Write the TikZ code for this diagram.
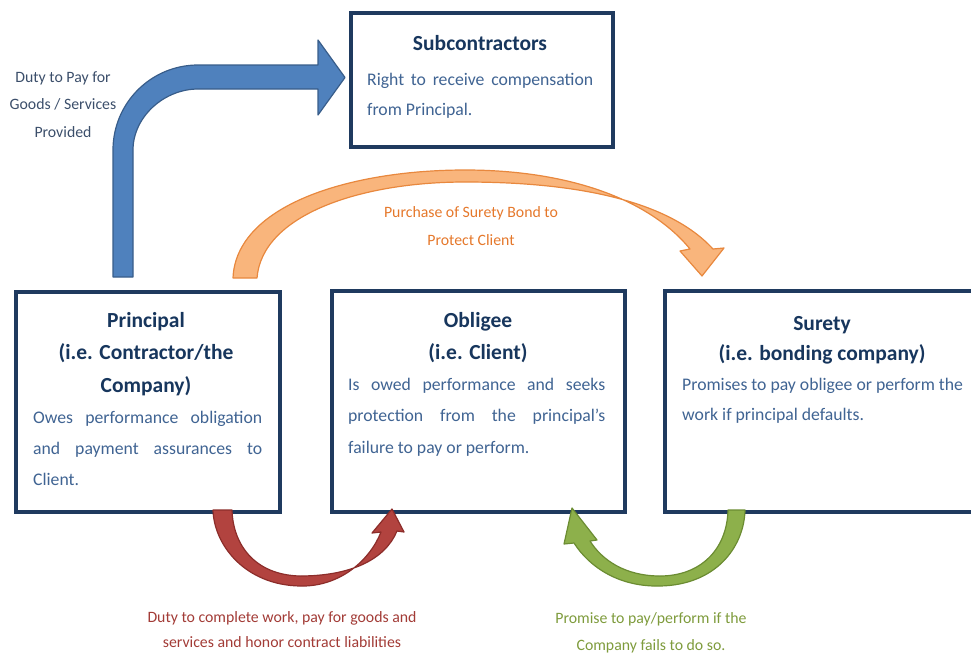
\documentclass[tikz,border=0pt]{standalone}
\usepackage{fontspec}
\setmainfont{Carlito}
\definecolor{boxline}{HTML}{1F3A5F}
\definecolor{titlecol}{HTML}{17365D}
\definecolor{bodycol}{HTML}{406493}
\definecolor{notecol}{HTML}{3B4E6A}
\definecolor{orangetxt}{HTML}{E5782B}
\definecolor{redtxt}{HTML}{A23B36}
\definecolor{greentxt}{HTML}{7E9B3C}
\definecolor{bluefill}{HTML}{4F81BD}
\definecolor{blueline}{HTML}{385D8A}
\definecolor{orangefill}{HTML}{F9B57C}
\definecolor{orangeline}{HTML}{E8883E}
\definecolor{redfill}{HTML}{B2433F}
\definecolor{redline}{HTML}{8C2D2A}
\definecolor{greenfill}{HTML}{8DB04B}
\definecolor{greenline}{HTML}{6B8C32}
% invisible strut fixing the height of a node's first line
\newcommand\firstrow[1]{\rule{0pt}{#1}}
\tikzset{
  box/.style={draw=boxline, line width=3.5pt, fill=white, inner sep=0pt},
  boxtitle/.style={anchor=north, align=center, inner sep=0pt, text=titlecol,
    font=\fontsize{21.5}{32.5}\selectfont\bfseries},
  boxbody/.style={anchor=north west, align=left, inner sep=0pt, text=bodycol,
    font=\fontsize{17.7}{31}\selectfont},
  note/.style={anchor=north, align=center, inner sep=0pt,
    font=\fontsize{15.8}{27.5}\selectfont},
  bandarrow/.style={line width=1.2pt, line join=round}
}
\begin{document}
\begin{tikzpicture}[x=1pt, y=-1pt]
\useasboundingbox (0,0) rectangle (971,654);
\clip (0,0) rectangle (971,654);

% boxes
\node[box, minimum width=262pt, minimum height=134pt, anchor=north west] (sub) at (349,11) {};
\node[box, minimum width=264pt, minimum height=220pt, anchor=north west] (principal) at (14,290) {};
\node[box, minimum width=293pt, minimum height=221pt, anchor=north west] (obligee) at (330,289) {};
\node[box, minimum width=330pt, minimum height=221pt, anchor=north west] (surety) at (663,289) {};

% box texts
\node[boxtitle] (subT) at (480,33) {\firstrow{17pt}Subcontractors};
\node[boxbody, font=\fontsize{17.7}{30}\selectfont] (subB) at (367,69)
  {\firstrow{16pt}\makebox[226pt][s]{Right to receive compensation}\\from Principal.};

\node[boxtitle] (prinT) at (146,310)
  {\firstrow{17pt}Principal\\(i.e. Contractor/the\\Company)};
\node[boxbody] (prinB) at (33,407)
  {\firstrow{16pt}\makebox[229pt][s]{Owes performance obligation}\\
   \makebox[229pt][s]{and payment assurances to}\\Client.};

\node[boxtitle] (oblT) at (478,310) {\firstrow{17pt}Obligee\\(i.e. Client)};
\node[boxbody, font=\fontsize{17.7}{31.5}\selectfont] (oblB) at (348,374)
  {\firstrow{16pt}\makebox[257pt][s]{Is owed performance and seeks}\\
   \makebox[257pt][s]{protection from the principal’s}\\failure to pay or perform.};

\node[boxtitle, font=\fontsize{21.5}{30.5}\selectfont\bfseries] (surT) at (822,313)
  {\firstrow{17pt}Surety\\(i.e. bonding company)};
\node[boxbody, font=\fontsize{17.7}{30}\selectfont] (surB) at (682,374)
  {\firstrow{16pt}Promises to pay obligee or perform the\\work if principal defaults.};

% bent arrow: principal -> subcontractors
\path[bandarrow, fill=bluefill, draw=blueline]
  (113,277) -- (113,150) .. controls (113,103) and (151,65) .. (198,65)
  -- (318,65) -- (318,40) -- (345,77.5) -- (318,115) -- (318,89) -- (198,89)
  .. controls (164,89) and (133,117) .. (133,150) -- (133,277) -- cycle;
\node[note, text=notecol] (dutyPay) at (63,69)
  {\firstrow{13pt}Duty to Pay for\\Goods / Services\\Provided};

% arched arrow: principal -> surety
\path[bandarrow, fill=orangefill, draw=orangeline]
  (233,278) .. controls (236,205) and (350,170) .. (465,170)
  .. controls (570,170) and (650,200) .. (690,249) -- (680,251) -- (702,276)
  -- (724,248) -- (713,249) .. controls (668,200) and (575,182) .. (465,182)
  .. controls (360,182) and (262,215) .. (257,278) -- cycle;
\node[note, text=orangetxt, font=\fontsize{15.8}{28}\selectfont] (bondNote) at (471,204)
  {\firstrow{13pt}Purchase of Surety Bond to\\Protect Client};

% u-turn arrow: principal -> obligee
\path[bandarrow, fill=redfill, draw=redline]
  (213,510) .. controls (214,545) and (245,585) .. (300,586)
  .. controls (340,587) and (370,560) .. (381,532) -- (372,533) -- (392,509)
  -- (404,532) -- (397,531) .. controls (385,560) and (350,576) .. (300,576)
  .. controls (255,575) and (233,545) .. (232,510) -- cycle;
\node[note, text=redtxt, font=\fontsize{15.8}{25}\selectfont] (dutyNote) at (282,609)
  {\firstrow{13pt}Duty to complete work, pay for goods and\\services and honor contract liabilities};

% u-turn arrow: surety -> obligee
\path[bandarrow, fill=greenfill, draw=greenline]
  (745,510) .. controls (744,548) and (715,585) .. (660,586)
  .. controls (620,587) and (590,568) .. (574,543) -- (564,544) -- (572,508)
  -- (597,540) -- (590,541) .. controls (602,560) and (625,576) .. (660,576)
  .. controls (700,576) and (727,550) .. (728,510) -- cycle;
\node[note, text=greentxt, font=\fontsize{15.8}{27}\selectfont] (promiseNote) at (651,610)
  {\firstrow{13pt}Promise to pay/perform if the\\Company fails to do so.};
\end{tikzpicture}
\end{document}
